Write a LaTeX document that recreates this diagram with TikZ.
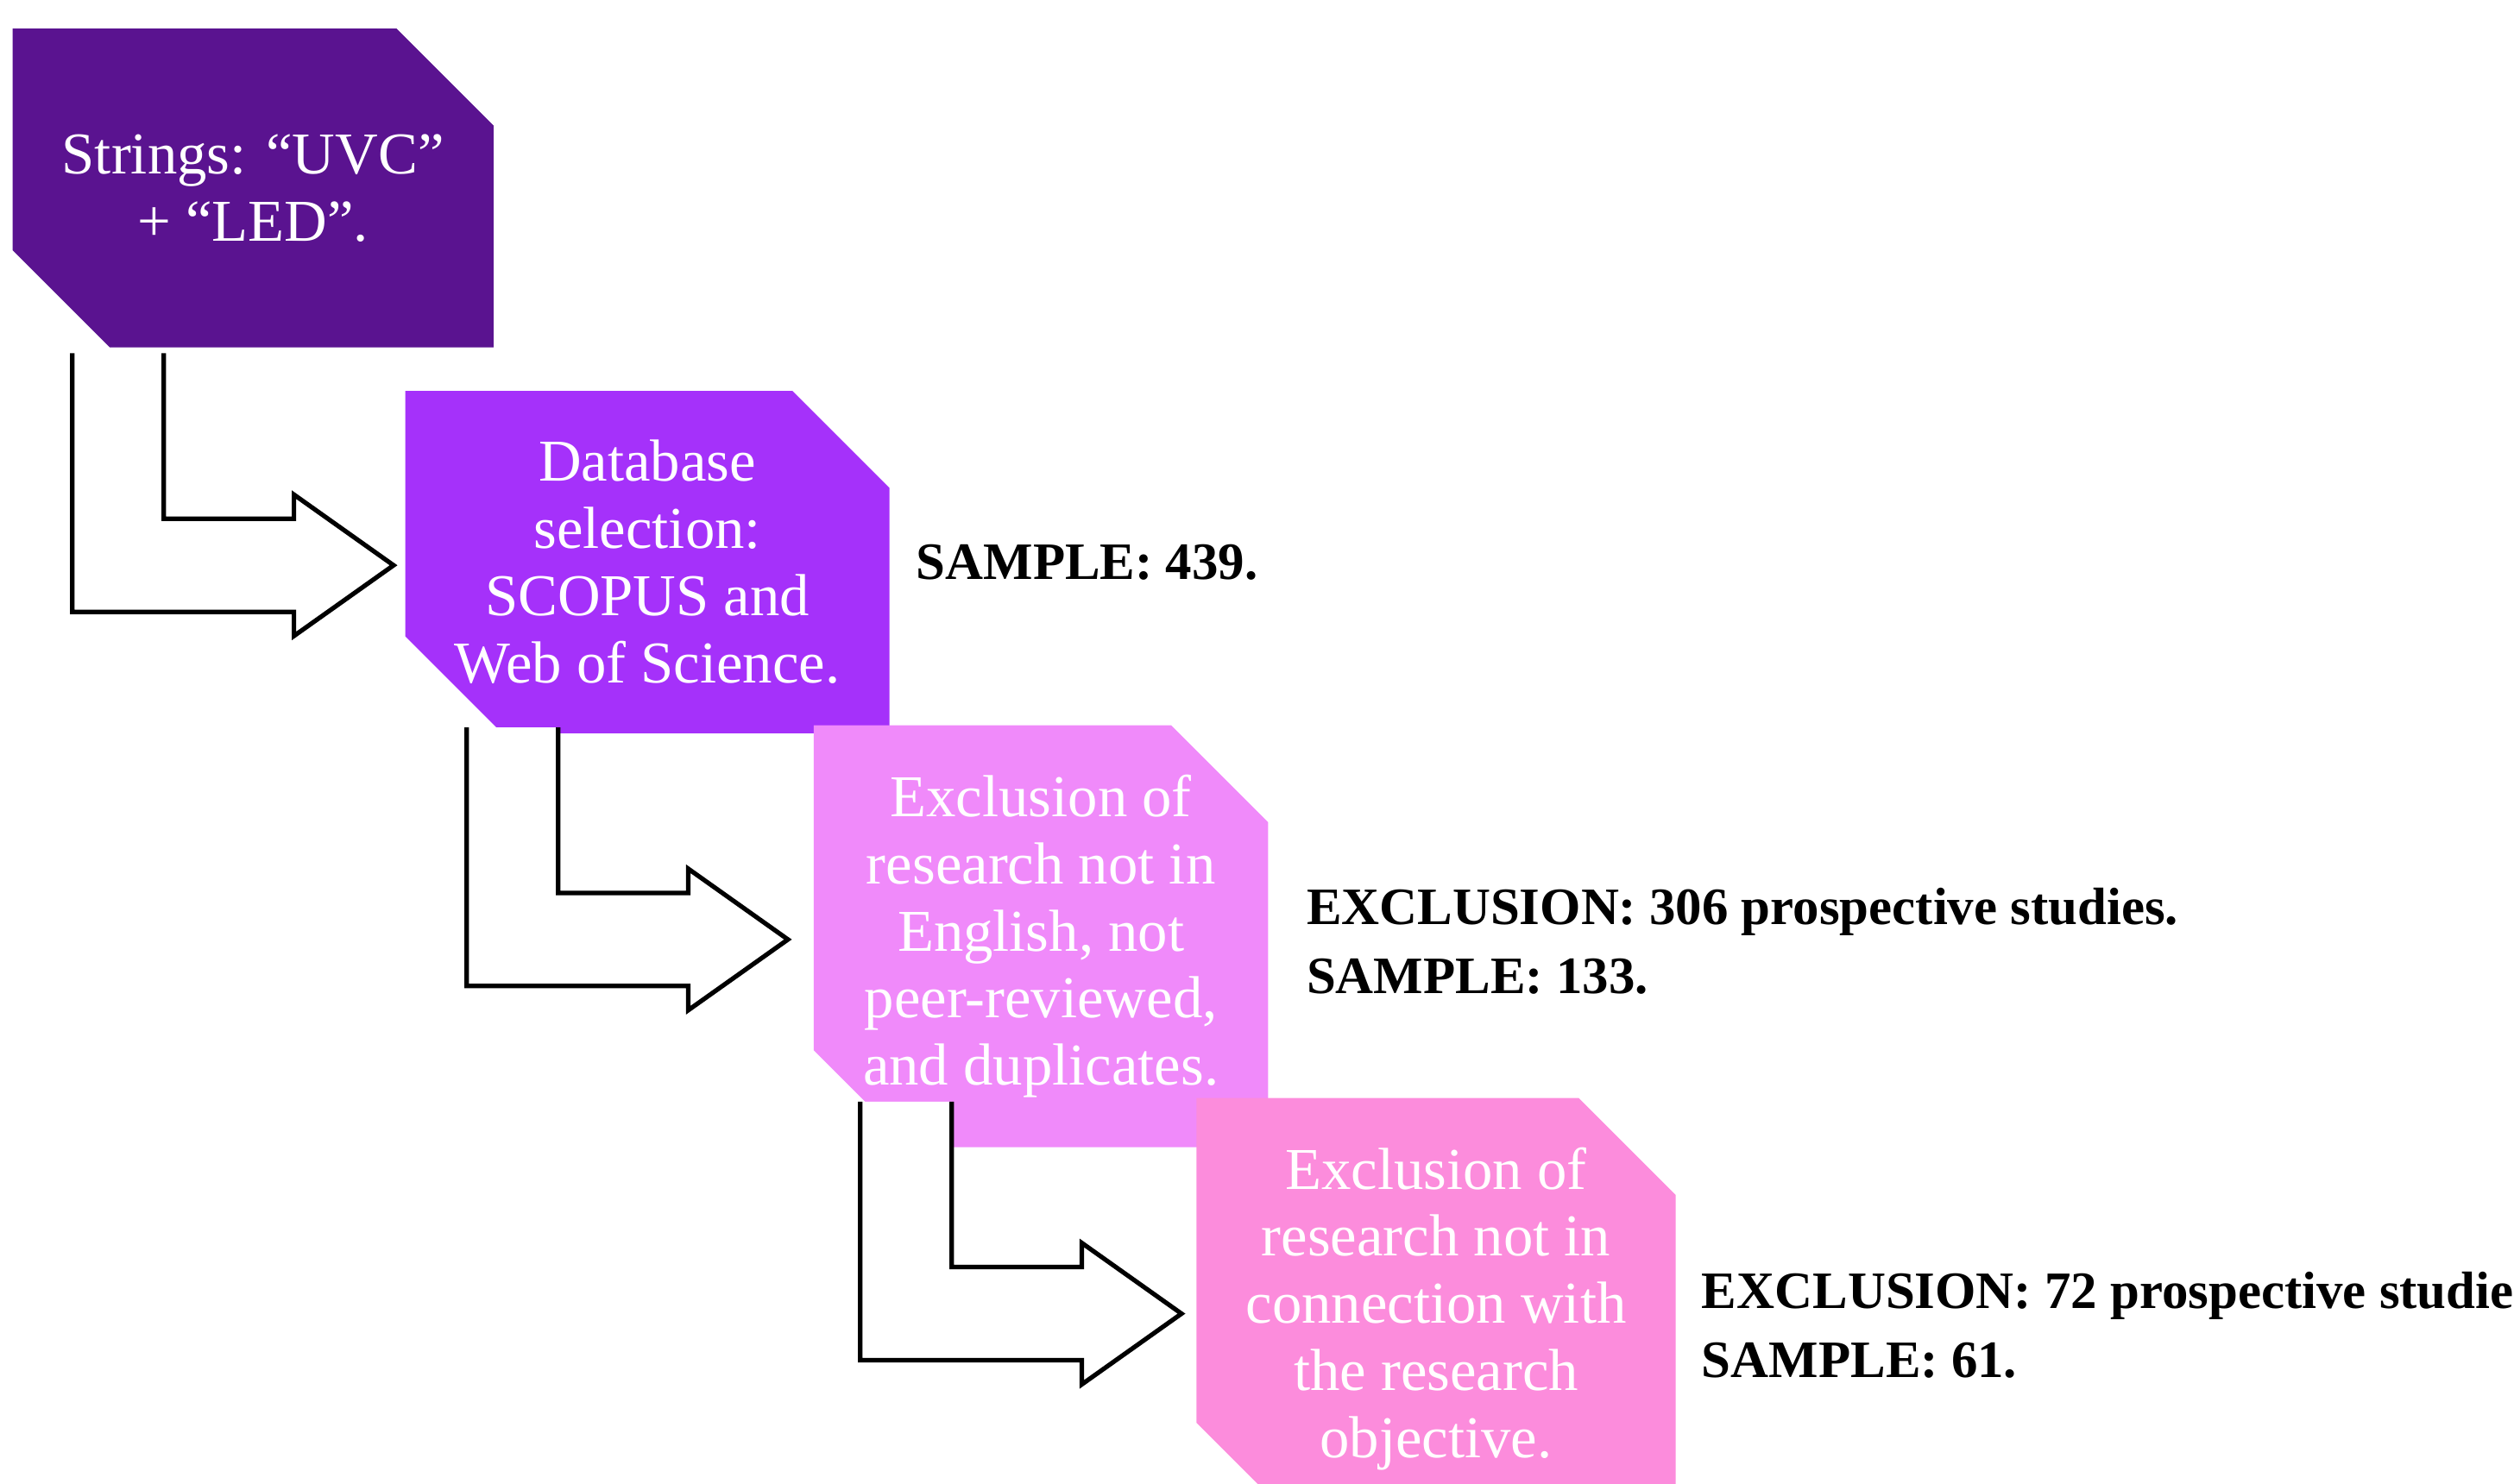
\documentclass[tikz,border=0pt]{standalone}
\usepackage{fontspec}
\setmainfont{Liberation Serif}
\usetikzlibrary{shapes.misc,calc,positioning}
\definecolor{boxa}{HTML}{5A1390}
\definecolor{boxb}{HTML}{A531FA}
\definecolor{boxc}{HTML}{F08AFA}
\definecolor{boxd}{HTML}{FC8CDC}
\tikzset{
  step/.style={chamfered rectangle, chamfered rectangle corners={north east,south west},
    chamfered rectangle xsep=0.3cm, chamfered rectangle ysep=0.3cm,
    minimum width=2.79cm, minimum height=1.97cm, inner sep=0pt, text=white,
    align=center, font=\fontsize{10.5}{11.9}\selectfont, fill=#1, draw=#1},
  note/.style={anchor=west, align=left, font=\bfseries\fontsize{9.3}{12.2}\selectfont}
}
\begin{document}
\begin{tikzpicture}[x=0.01cm,y=-0.01cm]
\useasboundingbox (0,0) rectangle (1565,924);
\node[step=boxa] (s1) at (157.5,117) {Strings: ``UVC''\\ + ``LED''.};
\node[step=boxb] (s2) at (403,350) {Database\\ selection:\\ SCOPUS and\\ Web of Science.};
\node[step=boxc] (s3) at (648,583) {Exclusion of\\ research not in\\ English, not\\ peer-reviewed,\\ and duplicates.};
\node[step=boxd] (s4) at (894,815) {Exclusion of\\ research not in\\ connection with\\ the research\\ objective.};

% bent outline arrows
\foreach \a/\b in {s1/s2,s2/s3,s3/s4}{
  \coordinate (c) at ($(\a.center)+(-147.5,103)$);
  \draw[thick, fill=white] ($(c)+(35,0)$) -- ($(c)+(35,161)$)
    -- ($(c)+(173,161)$) -- ($(c)+(173,176)$)
    -- ($(c)+(235,132)$) -- ($(c)+(173,88)$)
    -- ($(c)+(173,103)$) -- ($(c)+(92,103)$)
    -- ($(c)+(92,0)$);
}

\node[note] (n2) at ($(s2.center)+(155,0)$) {SAMPLE: 439.};
\node[note] (n3) at ($(s3.center)+(153,3)$) {EXCLUSION: 306 prospective studies.\\ SAMPLE: 133.};
\node[note] (n4) at ($(s4.center)+(153,10)$) {EXCLUSION: 72 prospective studies.\\ SAMPLE: 61.};
\end{tikzpicture}
\end{document}
